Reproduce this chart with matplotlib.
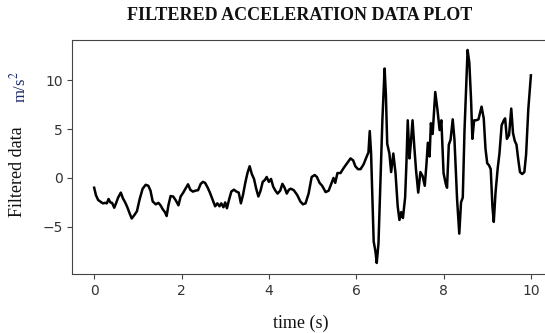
#!/usr/bin/env python3

import matplotlib
matplotlib.use("Agg")
import matplotlib.pyplot as plt

# Filtered acceleration samples
time_s = [
    0.00, 0.04, 0.09, 0.15, 0.20, 0.25, 0.29, 0.33, 0.37, 0.41,
    0.46, 0.50, 0.55, 0.61, 0.66, 0.71, 0.76, 0.81, 0.86, 0.92,
    0.98, 1.04, 1.11, 1.18, 1.24, 1.29, 1.34, 1.41, 1.47, 1.52,
    1.57, 1.62, 1.66, 1.70, 1.75, 1.81, 1.87, 1.93, 1.98, 2.04,
    2.09, 2.15, 2.20, 2.26, 2.32, 2.38, 2.44, 2.49, 2.54, 2.60,
    2.65, 2.71, 2.77, 2.82, 2.87, 2.91, 2.96, 3.00, 3.04, 3.09,
    3.14, 3.20, 3.26, 3.31, 3.36, 3.41, 3.46, 3.51, 3.56, 3.61,
    3.66, 3.71, 3.76, 3.81, 3.86, 3.91, 3.95, 4.00, 4.05, 4.10,
    4.15, 4.20, 4.26, 4.31, 4.36, 4.41, 4.46, 4.50, 4.57, 4.65,
    4.72, 4.78, 4.84, 4.91, 4.98, 5.05, 5.10, 5.16, 5.22, 5.30,
    5.37, 5.43, 5.48, 5.52, 5.57, 5.64, 5.71, 5.79, 5.87, 5.93,
    5.98, 6.04, 6.10, 6.17, 6.25, 6.28, 6.31, 6.34, 6.37, 6.40,
    6.44, 6.47, 6.51, 6.55, 6.60, 6.65, 6.68, 6.71, 6.76, 6.80,
    6.85, 6.90, 6.95, 6.99, 7.03, 7.07, 7.12, 7.15, 7.18, 7.22,
    7.25, 7.29, 7.33, 7.37, 7.42, 7.47, 7.52, 7.57, 7.61, 7.64,
    7.68, 7.71, 7.75, 7.81, 7.86, 7.91, 7.95, 8.00, 8.05, 8.08,
    8.12, 8.16, 8.21, 8.25, 8.31, 8.36, 8.40, 8.44, 8.48, 8.52,
    8.55, 8.59, 8.63, 8.66, 8.70, 8.75, 8.80, 8.87, 8.92, 8.96,
    9.00, 9.04, 9.08, 9.12, 9.15, 9.19, 9.24, 9.28, 9.33, 9.38,
    9.41, 9.45, 9.50, 9.55, 9.59, 9.63, 9.67, 9.71, 9.75, 9.80,
    9.85, 9.89, 9.94, 10.00,
]
accel = [
    -1.0, -1.75, -2.25, -2.45, -2.6, -2.55, -2.6, -2.15, -2.5, -2.55,
    -3.05, -2.6, -2.0, -1.5, -2.1, -2.5, -3.0, -3.6, -4.15, -3.8,
    -3.4, -2.2, -1.1, -0.7, -0.8, -1.3, -2.4, -2.7, -2.55, -2.8,
    -3.2, -3.5, -3.9, -2.8, -1.85, -1.9, -2.3, -2.8, -1.9, -1.5,
    -1.1, -0.65, -1.2, -1.4, -1.3, -1.25, -0.6, -0.4, -0.5, -1.0,
    -1.5, -2.2, -2.9, -2.6, -2.9, -2.6, -3.0, -2.5, -3.1, -2.2,
    -1.4, -1.2, -1.4, -1.5, -2.6, -1.7, -0.5, 0.5, 1.2, 0.4,
    -0.1, -1.1, -1.9, -1.3, -0.4, -0.2, 0.1, -0.4, -0.1, -0.9,
    -1.3, -1.6, -1.3, -0.6, -1.0, -1.6, -1.2, -1.1, -1.25, -1.75,
    -2.4, -2.7, -2.6, -1.6, 0.1, 0.3, 0.1, -0.5, -0.8, -1.45,
    -1.3, -0.6, 0.0, -0.5, 0.5, 0.5, 1.0, 1.5, 2.0, 1.8,
    1.2, 0.9, 0.9, 1.4, 2.3, 2.6, 4.8, 2.6, -2.0, -6.5,
    -7.5, -8.7, -6.7, -1.0, 6.0, 11.2, 8.5, 3.5, 2.5, 0.6,
    2.5, 0.5, -2.9, -4.3, -3.5, -4.1, -2.0, 1.5, 5.9, 2.0,
    3.5, 5.9, 3.2, 0.8, -1.5, 0.6, 0.2, -0.8, 1.5, 3.6,
    2.2, 5.6, 4.5, 8.8, 7.0, 4.9, 5.9, 0.5, -0.6, -1.0,
    3.4, 3.9, 6.0, 3.9, -2.2, -5.7, -2.5, -2.0, 4.9, 9.5,
    13.1, 11.8, 8.0, 4.0, 5.9, 5.9, 6.0, 7.3, 6.1, 3.0,
    1.5, 1.3, 0.9, -3.0, -4.5, -1.5, 1.0, 2.5, 5.4, 5.9,
    6.1, 4.0, 4.4, 7.1, 4.6, 3.8, 3.4, 1.9, 0.6, 0.4,
    0.6, 2.4, 7.0, 10.5,
]
x_ticks = [0, 2, 4, 6, 8, 10]
y_ticks = [-5, 0, 5, 10]


def main():
    fig = plt.figure(figsize=(5.45, 3.33), dpi=100)
    # axes runs past the right edge, as in the cropped original
    ax = fig.add_axes([0.1327, 0.1772, 0.8815, 0.7027])

    ax.plot(time_s, accel, color="black", linewidth=1.8)
    ax.set_xlim(-0.5, 10.5)
    ax.set_ylim(-9.83, 14.12)
    ax.set_xticks(x_ticks)
    ax.set_yticks(y_ticks)
    ax.tick_params(colors="#444444", labelsize=10, labelcolor="#333333")
    for side in ax.spines.values():
        side.set_color("#444444")

    serif = ["Liberation Serif", "DejaVu Serif"]
    plt.rcParams["mathtext.fontset"] = "stix"

    # Title and axis labels sit outside the axes like in the original figure
    fig.text(300 / 545, 1 - 16 / 333, "FILTERED ACCELERATION DATA PLOT",
             ha="center", va="center", fontsize=13, fontweight="bold",
             family=serif, color="#111111")
    fig.text(301 / 545, 1 - 323 / 333, "time (s)", ha="center", va="center",
             fontsize=13, family=serif, color="#111111")
    fig.text(18 / 545, 1 - 172 / 333, "Filtered data", rotation=90,
             ha="center", va="center", fontsize=13, family=serif,
             color="#111111")
    fig.text(19 / 545, 1 - 87 / 333, r"m/s$^2$", rotation=90,
             ha="center", va="center", fontsize=12, family=serif,
             color="#1c2a70")

    plt.savefig("out.png", dpi=100)


if __name__ == "__main__":
    main()
